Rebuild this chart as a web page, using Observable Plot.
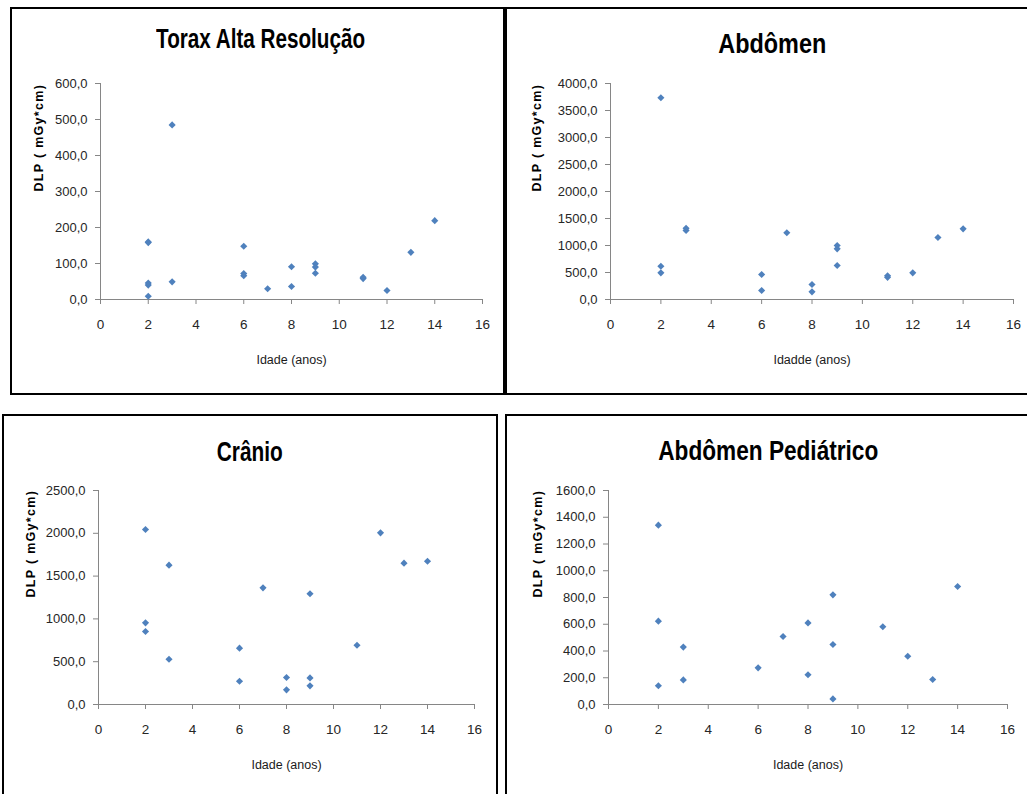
<!DOCTYPE html>
<html>
<head>
<meta charset="utf-8">
<script src="https://cdn.jsdelivr.net/npm/d3@7"></script>
<script src="https://cdn.jsdelivr.net/npm/@observablehq/plot@0.6"></script>
<style>
  html, body { margin:0; padding:0; background:#fff; width:1027px; height:794px; overflow:hidden; position:relative; font-family:"Liberation Sans", Arial, sans-serif; }
  .box { position:absolute; border:2px solid #000; box-sizing:border-box; }
  .title { position:absolute; font-family:"Liberation Sans", Arial, sans-serif; font-weight:bold; font-size:27px; white-space:nowrap; color:#000; line-height:1; }
  .chart { position:absolute; }
</style>
</head>
<body>
<script>
// ---------- data ----------
const xTicks = [0, 2, 4, 6, 8, 10, 12, 14, 16];

const toraxIdade = [2, 2, 2, 2, 2, 3, 3, 6, 6, 6, 7, 8, 8, 9, 9, 9, 11, 11, 12, 13, 14];
const toraxDLP   = [158, 160, 40, 46, 9, 485, 49, 148, 66, 72, 30, 91, 36, 99, 90, 73, 58, 62, 25, 131, 219];
const toraxYTicks = [0, 100, 200, 300, 400, 500, 600];

const abdIdade = [2, 2, 2, 3, 3, 6, 6, 7, 8, 8, 9, 9, 9, 11, 11, 12, 13, 14];
const abdDLP   = [3735, 617, 494, 1280, 1320, 463, 167, 1235, 278, 142, 1000, 938, 630, 410, 440, 494, 1148, 1308];
const abdYTicks = [0, 500, 1000, 1500, 2000, 2500, 3000, 3500, 4000];

const cranioIdade = [2, 2, 2, 3, 3, 6, 6, 7, 8, 8, 9, 9, 9, 11, 12, 13, 14];
const cranioDLP   = [2044, 954, 853, 1628, 529, 658, 272, 1363, 315, 171, 1293, 311, 218, 693, 2005, 1651, 1674];
const cranioYTicks = [0, 500, 1000, 1500, 2000, 2500];

const pedIdade = [2, 2, 2, 3, 3, 6, 7, 8, 8, 9, 9, 9, 11, 12, 13, 14];
const pedDLP   = [1341, 623, 140, 429, 184, 274, 508, 610, 222, 820, 449, 42, 581, 361, 187, 882];
const pedYTicks = [0, 200, 400, 600, 800, 1000, 1200, 1400, 1600];

const titles = ["Torax Alta Resolução", "Abdômen", "Crânio", "Abdômen Pediátrico"];
const xTitles = ["Idade (anos)", "Idadde (anos)", "Idade (anos)", "Idade (anos)"];
const yTitle = "DLP ( mGy*cm)";

// ---------- layout ----------
const boxes = [
  {left:10, top:7, width:495, height:388},
  {left:505, top:7, width:540, height:388},
  {left:2, top:414, width:496, height:400},
  {left:505, top:414, width:540, height:400}
];
const frames = [
  {left:100, right:482, top:83, bottom:299, titleX:261, titleY:39, titleW:209, yOff:62},
  {left:610, right:1013, top:83, bottom:299, titleX:772, titleY:44, titleW:108, yOff:74},
  {left:98, right:474, top:490, bottom:704, titleX:250, titleY:452, titleW:66, yOff:68},
  {left:608, right:1007, top:490, bottom:704, titleX:768, titleY:451, titleW:220, yOff:71}
];
const series = [
  {idade:toraxIdade, dlp:toraxDLP, yTicks:toraxYTicks},
  {idade:abdIdade, dlp:abdDLP, yTicks:abdYTicks},
  {idade:cranioIdade, dlp:cranioDLP, yTicks:cranioYTicks},
  {idade:pedIdade, dlp:pedDLP, yTicks:pedYTicks}
];

const fmt = d => d.toFixed(1).replace(".", ",");
const FONT = '"Liberation Sans", Arial, sans-serif';

boxes.forEach((b, i) => {
  const box = document.createElement("div");
  box.className = "box";
  Object.assign(box.style, {left:b.left+"px", top:b.top+"px", width:b.width+"px", height:b.height+"px"});
  document.body.appendChild(box);

  const f = frames[i];
  const t = document.createElement("div");
  t.className = "title";
  t.textContent = titles[i];
  document.body.appendChild(t);
  const r = t.getBoundingClientRect();
  const sx = f.titleW / r.width;
  Object.assign(t.style, {
    left: (f.titleX - r.width / 2) + "px",
    top: (f.titleY - r.height / 2) + "px",
    transformOrigin: "50% 50%",
    transform: `scaleX(${sx})`
  });

  const ML = 92, MR = 12, MT = 15, MB = 80;
  const s = series[i];
  const rows = s.idade.map((x, k) => ({idade: x, dlp: s.dlp[k]}));
  const yMax = s.yTicks[s.yTicks.length - 1];

  const chart = Plot.plot({
    width: f.right - f.left + ML + MR,
    height: f.bottom - f.top + MT + MB,
    marginLeft: ML, marginRight: MR, marginTop: MT, marginBottom: MB,
    style: {fontFamily: FONT, fontSize: "13px", background: "transparent", overflow: "visible"},
    x: {domain: [0, 16]},
    y: {domain: [0, yMax]},
    marks: [
      Plot.axisX({ticks: xTicks, tickSize: 5, tickPadding: 15, stroke: "#868686", fill: "#262626", tickFormat: d => String(d), label: null, fontSize: 13.5}),
      Plot.axisY({ticks: s.yTicks, tickSize: 5, tickPadding: 8, stroke: "#868686", fill: "#262626", tickFormat: fmt, label: null, fontSize: 13}),
      Plot.ruleY([0], {stroke: "#868686"}),
      Plot.ruleX([0], {stroke: "#868686"}),
      Plot.dot(rows, {x: "idade", y: "dlp", symbol: "diamond2", r: 3.2, fill: "#4F81BD", stroke: "none"}),
      Plot.text([xTitles[i]], {frameAnchor: "bottom", dy: 64, fontSize: 12.5, fill: "#1a1a1a"}),
      Plot.text([yTitle], {frameAnchor: "left", dx: -f.yOff, rotate: -90, fontSize: 12.5, fontWeight: "bold", fill: "#000"})
    ]
  });
  chart.classList.add("chart");
  chart.style.position = "absolute";
  chart.style.left = (f.left - ML) + "px";
  chart.style.top = (f.top - MT) + "px";
  d3.select(chart).selectAll("text").filter(function() { return this.textContent === yTitle; }).attr("letter-spacing", "1.3");
  document.body.appendChild(chart);
});
</script>
</body>
</html>
